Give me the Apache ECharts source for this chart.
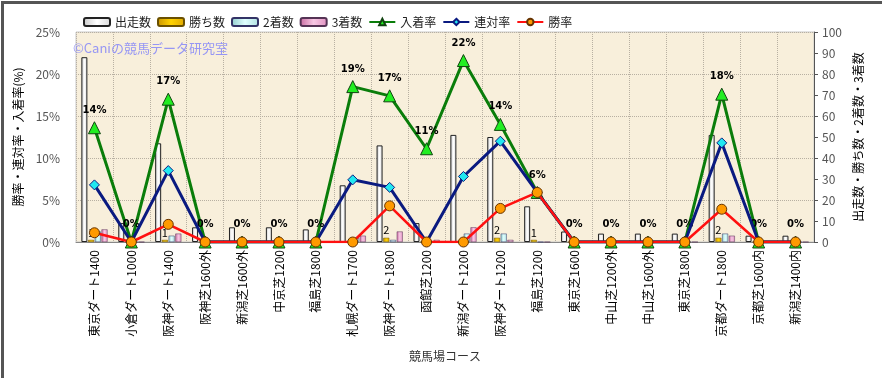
<!DOCTYPE html>
<html>
<head>
<meta charset="utf-8">
<script src="https://cdn.jsdelivr.net/npm/echarts@6/dist/echarts.min.js"></script>
<style>
  html, body { margin: 0; padding: 0; background: #fff; }
  #main { width: 882px; height: 378px; }
</style>
</head>
<body>
<div id="main"></div>
<script>
// コース名
const courses = ['東京ダート1400', '小倉ダート1000', '阪神ダート1400', '阪神芝1600外', '新潟芝1600外',
  '中京芝1200', '福島芝1800', '札幌ダート1700', '阪神ダート1800', '函館芝1200',
  '新潟ダート1200', '阪神ダート1200', '福島芝1200', '東京芝1600', '中山芝1200外',
  '中山芝1600外', '東京芝1800', '京都ダート1800', '京都芝1600内', '新潟芝1400内'];

// 頭数 (右軸)
const starts  = [88, 9, 47, 7, 7, 7, 6, 27, 46, 9, 51, 50, 17, 5, 4, 4, 4, 51, 3, 3];
const wins    = [1, 0, 1, 0, 0, 0, 0, 0, 2, 0, 0, 2, 1, 0, 0, 0, 0, 2, 0, 0];
const seconds = [5, 0, 3, 0, 0, 0, 0, 2, 1, 0, 4, 4, 0, 0, 0, 0, 0, 4, 0, 0];
const thirds  = [6, 0, 4, 0, 0, 0, 0, 3, 5, 1, 7, 1, 0, 0, 0, 0, 0, 3, 0, 0];

// 率 (左軸, %)
const placeRate  = [13.6, 0, 17.0, 0, 0, 0, 0, 18.5, 17.4, 11.1, 21.6, 14.0, 5.9, 0, 0, 0, 0, 17.6, 0, 0];
const rentaiRate = [6.8, 0, 8.5, 0, 0, 0, 0, 7.4, 6.5, 0, 7.8, 12.0, 5.9, 0, 0, 0, 0, 11.8, 0, 0];
const winRate    = [1.1, 0, 2.1, 0, 0, 0, 0, 0, 4.3, 0, 0, 4.0, 5.9, 0, 0, 0, 0, 3.9, 0, 0];

const pctTicks = [0, 5, 10, 15, 20, 25];

const chart = echarts.init(document.getElementById('main'));

function grad(c1, c2, c3) {
  return new echarts.graphic.LinearGradient(0, 0, 1, 0, [
    { offset: 0, color: c1 }, { offset: 0.5, color: c2 }, { offset: 1, color: c3 }
  ]);
}

const font = '"Noto Sans CJK JP", "Noto Sans", sans-serif';

const barCommon = {
  type: 'bar',
  yAxisIndex: 1,
  barWidth: 6,
  barGap: '12%',
  z: 2
};

const option = {
  animation: false,
  backgroundColor: '#fff',
  textStyle: { fontFamily: font },
  graphic: [
    {
      type: 'rect', left: 0, top: 0, z: -10, silent: true,
      shape: { width: 882, height: 378 },
      style: { fill: 'none', stroke: '#555', lineWidth: 3 }
    },
    {
      type: 'text', left: 73, top: 42, z: 20, silent: true,
      style: { text: '©Caniの競馬データ研究室', fill: '#9696f4', font: '13px ' + font }
    }
  ],
  legend: {
    top: 11,
    left: 78,
    itemWidth: 26,
    itemHeight: 8,
    itemGap: 6,
    textStyle: { fontSize: 12, color: '#222' },
    data: ['出走数', '勝ち数', '2着数', '3着数', '入着率', '連対率', '勝率']
  },
  grid: {
    left: 76,
    right: 68,
    top: 32,
    bottom: 136,
    show: true,
    backgroundColor: '#f8efdb',
    borderColor: '#c8c8c8',
    borderWidth: 1
  },
  xAxis: {
    type: 'category',
    data: courses,
    boundaryGap: true,
    name: '競馬場コース',
    nameLocation: 'middle',
    nameGap: 108,
    nameTextStyle: { fontSize: 12, color: '#333' },
    axisLine: { show: true, lineStyle: { color: '#888' } },
    axisTick: { show: false },
    axisLabel: { rotate: 90, fontSize: 12, color: '#000', margin: 8 },
    splitLine: { show: true, lineStyle: { color: '#b8b0a2', type: 'dotted' } }
  },
  yAxis: [
    {
      type: 'value',
      min: pctTicks[0],
      max: pctTicks[pctTicks.length - 1],
      interval: 5,
      name: '勝率・連対率・入着率(%)',
      nameLocation: 'middle',
      nameRotate: 90,
      nameGap: 52,
      nameTextStyle: { fontSize: 12, color: '#000' },
      axisLine: { show: false },
      axisTick: { show: false },
      axisLabel: { formatter: '{value}%', fontSize: 12, color: '#555', margin: 16 },
      splitLine: { show: true, lineStyle: { color: '#b8b0a2', type: 'dotted' } }
    },
    {
      type: 'value',
      min: 0,
      max: 100,
      interval: 10,
      position: 'right',
      name: '出走数・勝ち数・2着数・3着数',
      nameLocation: 'middle',
      nameRotate: 90,
      nameGap: 38,
      nameTextStyle: { fontSize: 12, color: '#000' },
      axisLine: { show: true, lineStyle: { color: '#555' } },
      axisTick: { show: true, length: 4, lineStyle: { color: '#555' } },
      axisLabel: { fontSize: 12, color: '#555', margin: 8 },
      splitLine: { show: false }
    }
  ],
  series: [
    Object.assign({}, barCommon, {
      name: '出走数',
      data: starts,
      itemStyle: { color: grad('#c8c8c8', '#ffffff', '#d8d8d8'), borderColor: '#222', borderWidth: 1 }
    }),
    Object.assign({}, barCommon, {
      name: '勝ち数',
      data: wins,
      itemStyle: { color: grad('#c89200', '#ffd200', '#e0a800'), borderColor: '#6a5000', borderWidth: 0.5 },
      label: {
        show: true, position: 'top', fontSize: 11, color: '#000', distance: 2,
        formatter: p => (p.value ? String(p.value) : '')
      }
    }),
    Object.assign({}, barCommon, {
      name: '2着数',
      data: seconds,
      itemStyle: { color: grad('#90cccc', '#e0ffff', '#b0e0e0'), borderColor: '#336', borderWidth: 0.5 }
    }),
    Object.assign({}, barCommon, {
      name: '3着数',
      data: thirds,
      itemStyle: { color: grad('#c86aa0', '#f8c8e4', '#e090c0'), borderColor: '#535', borderWidth: 0.5 }
    }),
    {
      name: '入着率',
      type: 'line',
      yAxisIndex: 0,
      data: placeRate,
      z: 5,
      symbol: 'triangle',
      symbolSize: 12,
      lineStyle: { color: '#0a7d0a', width: 3 },
      itemStyle: { color: '#22ee22', borderColor: '#114411', borderWidth: 1 },
      label: {
        show: true, position: 'top', distance: 6,
        fontSize: 10, fontWeight: 'bold', color: '#000', fontFamily: 'DejaVu Sans',
        formatter: p => Math.round(p.value) + '%'
      }
    },
    {
      name: '連対率',
      type: 'line',
      yAxisIndex: 0,
      data: rentaiRate,
      z: 6,
      symbol: 'diamond',
      symbolSize: 10,
      lineStyle: { color: '#0a1a80', width: 3 },
      itemStyle: { color: '#22e8f0', borderColor: '#0a1a80', borderWidth: 1 }
    },
    {
      name: '勝率',
      type: 'line',
      yAxisIndex: 0,
      data: winRate,
      z: 7,
      symbol: 'circle',
      symbolSize: 10,
      lineStyle: { color: '#ff1010', width: 2.5 },
      itemStyle: { color: '#ff9a00', borderColor: '#663300', borderWidth: 1 }
    }
  ]
};

chart.setOption(option);
</script>
</body>
</html>
